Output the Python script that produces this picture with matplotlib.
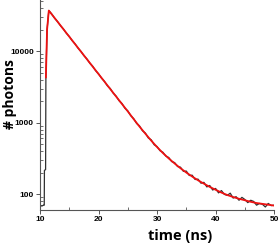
import numpy as np
import matplotlib.pyplot as plt
from matplotlib.ticker import FixedLocator, LogLocator, NullFormatter

t_rise = [10.0, 10.3, 10.6, 10.72, 10.75, 10.95, 11.0, 11.2, 11.5]
n_rise = [70, 68, 70, 70, 215, 220, 4300, 20000, 37000]

t_data = [12.0 + 0.5 * i for i in range(77)]
n_data = [33100, 28800, 25900, 22700, 20400, 17800, 16050, 14000, 12600, 11000,
          9900, 8650, 7800, 6800, 6150, 5330, 4820, 4200, 3790, 3280,
          3000, 2590, 2350, 2030, 1850, 1590, 1460, 1250, 1140, 975,
          900, 770, 715, 610, 575, 490, 462, 405, 385, 340,
          325, 285, 276, 243, 238, 208, 210, 182, 184, 160,
          162, 142, 146, 126, 132, 114, 120, 104, 112, 99,
          96, 103, 88, 92, 82, 90, 84, 76, 82, 79,
          70, 74, 72, 66, 74, 69, 70]

t_fit = [11.0, 11.2, 11.5, 12, 13, 14, 15, 16, 17, 18, 19, 20, 21, 22, 23, 24, 25,
         26, 27, 28, 29, 30, 31, 32, 33, 34, 35, 36, 37, 38, 39, 40,
         41, 42, 43, 44, 45, 46, 47, 48, 49, 50]
n_fit = [4300, 20000, 37000, 32800, 25800, 20270, 15930, 12520, 9840, 7740, 6080,
         4780, 3760, 2950, 2320, 1825, 1435, 1120, 880, 700, 560, 455, 375, 315,
         268, 230, 200, 176, 156, 140, 126, 115, 105, 97, 91, 86, 82, 78, 75,
         73, 71, 69]

plt.rcParams['font.family'] = 'Liberation Sans'
fig = plt.figure(figsize=(2.8, 2.47), dpi=100)
ax = fig.add_axes([0.143, 0.150, 0.836, 0.850])

ax.plot(t_rise + t_data, n_rise + n_data, color='#303030', lw=0.9)
ax.plot(t_fit, n_fit, color='#ee1111', lw=1.3)

ax.set_yscale('log')
ax.set_xlim(10, 50)
ax.set_ylim(60, 52000)

ax.spines['top'].set_visible(False)
ax.spines['right'].set_visible(False)
for s in ['left', 'bottom']:
    ax.spines[s].set_color('#555555')
    ax.spines[s].set_linewidth(0.8)

ax.xaxis.set_major_locator(FixedLocator([10, 20, 30, 40, 50]))
ax.xaxis.set_minor_locator(FixedLocator([15, 25, 35, 45]))
ax.yaxis.set_major_locator(FixedLocator([100, 1000, 10000]))
ax.yaxis.set_minor_locator(LogLocator(base=10, subs=np.arange(2, 10)))
ax.yaxis.set_minor_formatter(NullFormatter())
ax.set_yticklabels(['100', '1000', '10000'])

ax.tick_params(which='major', direction='out', length=3, width=0.7,
               color='#555555', labelsize=6, pad=1.5)
ax.tick_params(which='minor', direction='in', length=2, width=0.6, color='#555555')
for lab in ax.get_xticklabels() + ax.get_yticklabels():
    lab.set_fontweight('bold')

ax.set_xlabel('time (ns)', fontsize=10.5, fontweight='bold', family='Open Sans')
ax.xaxis.set_label_coords(0.6, -0.09)
ax.set_ylabel('# photons', fontsize=10, fontweight='bold', family='Open Sans')
ax.yaxis.set_label_coords(-0.1, 0.55)

fig.savefig('out.png', dpi=100)
